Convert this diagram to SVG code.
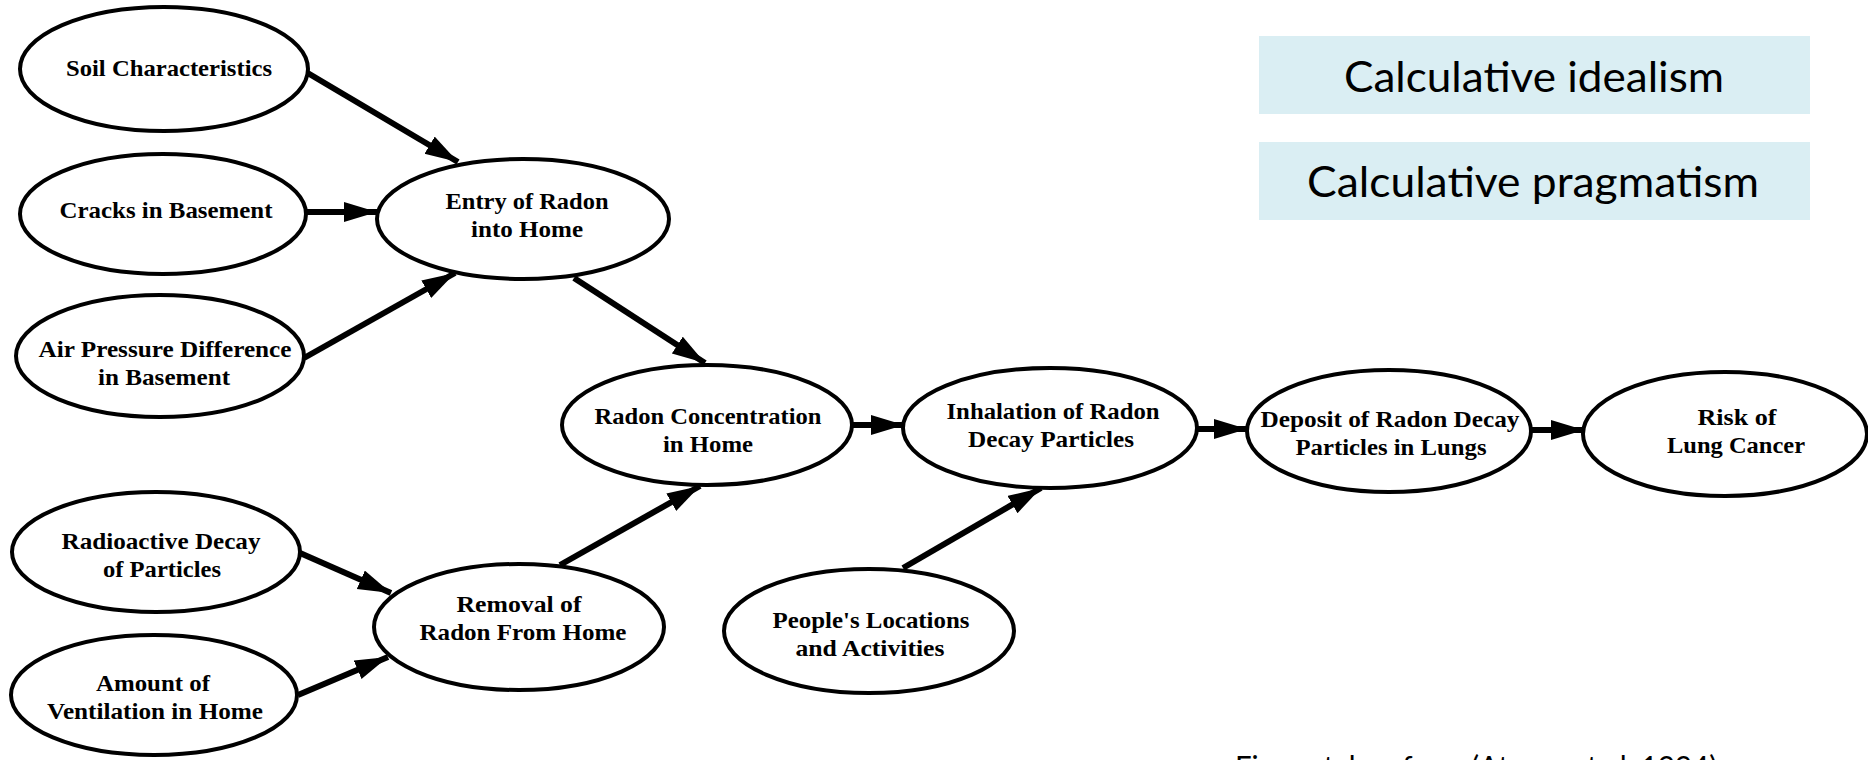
<svg xmlns="http://www.w3.org/2000/svg" width="1868" height="760" viewBox="0 0 1868 760">
<style>
.n ellipse{fill:#fff;stroke:#000;stroke-width:4}
.n text{font-family:"Liberation Serif",serif;font-weight:bold;font-size:24px;text-anchor:middle;fill:#000}
.e line{stroke:#000;stroke-width:6;marker-end:url(#ah)}
.box{fill:#DAEEF3}
.bt{font-family:Lato,"Open Sans",sans-serif;font-size:42px;text-anchor:middle;fill:#000}
.cap{font-family:Lato,"Open Sans",sans-serif;font-size:31px;fill:#000}
</style>
<defs>
<marker id="ah" markerUnits="userSpaceOnUse" markerWidth="34" markerHeight="22" refX="33" refY="10" orient="auto">
<path d="M0,0 L33,10 L0,20 z" fill="#000"/>
</marker>
</defs>
<rect width="1868" height="760" fill="#fff"/>
<g class="e" id="connectors">
<line x1="306" y1="72" x2="458" y2="162"/>
<line x1="306" y1="212" x2="377" y2="212"/>
<line x1="304" y1="358" x2="455" y2="273"/>
<line x1="574" y1="278" x2="705" y2="363"/>
<line x1="300" y1="553" x2="391" y2="593"/>
<line x1="298" y1="695" x2="388" y2="657"/>
<line x1="560" y1="565" x2="700" y2="486"/>
<line x1="852" y1="425" x2="904" y2="425"/>
<line x1="903" y1="568" x2="1041" y2="488"/>
<line x1="1196" y1="429" x2="1247" y2="429"/>
<line x1="1531" y1="430" x2="1584" y2="430"/>
</g>
<g class="n" id="soil"><ellipse cx="164" cy="69" rx="144" ry="62"/><text x="169" y="76" textLength="206" lengthAdjust="spacingAndGlyphs">Soil Characteristics</text></g>
<g class="n" id="cracks"><ellipse cx="163" cy="214" rx="143" ry="60"/><text x="166" y="218" textLength="213" lengthAdjust="spacingAndGlyphs">Cracks in Basement</text></g>
<g class="n" id="air"><ellipse cx="160" cy="356" rx="144" ry="61"/><text x="165" y="357" textLength="253" lengthAdjust="spacingAndGlyphs">Air Pressure Difference</text><text x="164" y="385" textLength="132" lengthAdjust="spacingAndGlyphs">in Basement</text></g>
<g class="n" id="entry"><ellipse cx="523" cy="219" rx="146" ry="60"/><text x="527" y="209" textLength="163" lengthAdjust="spacingAndGlyphs">Entry of Radon</text><text x="527" y="237" textLength="112" lengthAdjust="spacingAndGlyphs">into Home</text></g>
<g class="n" id="radoncon"><ellipse cx="707" cy="425" rx="145" ry="60"/><text x="708" y="424" textLength="227" lengthAdjust="spacingAndGlyphs">Radon Concentration</text><text x="708" y="452" textLength="90" lengthAdjust="spacingAndGlyphs">in Home</text></g>
<g class="n" id="inhalation"><ellipse cx="1050" cy="428" rx="147" ry="60"/><text x="1053" y="419" textLength="213" lengthAdjust="spacingAndGlyphs">Inhalation of Radon</text><text x="1051" y="447" textLength="166" lengthAdjust="spacingAndGlyphs">Decay Particles</text></g>
<g class="n" id="deposit"><ellipse cx="1389" cy="431" rx="142" ry="61"/><text x="1390" y="427" textLength="259" lengthAdjust="spacingAndGlyphs">Deposit of Radon Decay</text><text x="1391" y="455" textLength="191" lengthAdjust="spacingAndGlyphs">Particles in Lungs</text></g>
<g class="n" id="risk"><ellipse cx="1725" cy="434" rx="142" ry="62"/><text x="1737" y="425" textLength="79" lengthAdjust="spacingAndGlyphs">Risk of</text><text x="1736" y="453" textLength="138" lengthAdjust="spacingAndGlyphs">Lung Cancer</text></g>
<g class="n" id="radioactive"><ellipse cx="156" cy="552" rx="144" ry="60"/><text x="161" y="549" textLength="199" lengthAdjust="spacingAndGlyphs">Radioactive Decay</text><text x="162" y="577" textLength="118" lengthAdjust="spacingAndGlyphs">of Particles</text></g>
<g class="n" id="ventilation"><ellipse cx="154" cy="695" rx="143" ry="60"/><text x="153" y="691" textLength="114" lengthAdjust="spacingAndGlyphs">Amount of</text><text x="155" y="719" textLength="216" lengthAdjust="spacingAndGlyphs">Ventilation in Home</text></g>
<g class="n" id="removal"><ellipse cx="519" cy="627" rx="145" ry="63"/><text x="519" y="612" textLength="125" lengthAdjust="spacingAndGlyphs">Removal of</text><text x="523" y="640" textLength="207" lengthAdjust="spacingAndGlyphs">Radon From Home</text></g>
<g class="n" id="people"><ellipse cx="869" cy="631" rx="145" ry="62"/><text x="871" y="628" textLength="197" lengthAdjust="spacingAndGlyphs">People's Locations</text><text x="870" y="656" textLength="149" lengthAdjust="spacingAndGlyphs">and Activities</text></g>
<g id="idealism"><rect class="box" x="1259" y="36" width="551" height="78"/><text class="bt" x="1534" y="92" textLength="380" lengthAdjust="spacingAndGlyphs">Calculative idealism</text></g>
<g id="pragmatism"><rect class="box" x="1259" y="142" width="551" height="78"/><text class="bt" x="1533" y="197" textLength="452" lengthAdjust="spacingAndGlyphs">Calculative pragmatism</text></g>
<g id="caption"><text class="cap" x="1235" y="778" textLength="482" lengthAdjust="spacingAndGlyphs">Figure taken from (Atman et al, 1994)</text></g>
</svg>
